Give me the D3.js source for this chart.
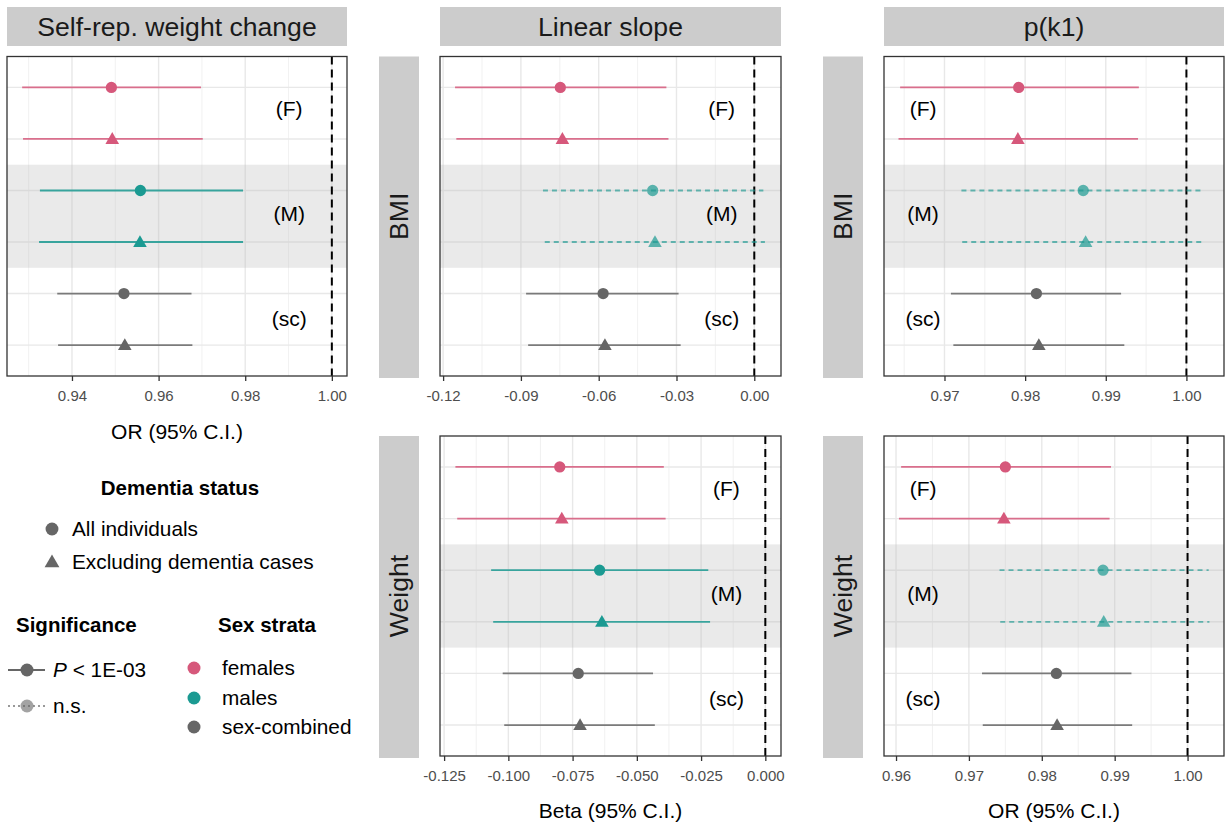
<!DOCTYPE html>
<html lang="en">
<head>
<meta charset="UTF-8">
<title>Weight change forest plot</title>
<script src="https://d3js.org/d3.v7.min.js"></script>
<style>
  body { margin: 0; background: #fff; font-family: "Liberation Sans", Arial, sans-serif; }
  .tick text { font-family: "Liberation Sans", Arial, sans-serif; }
</style>
</head>
<body>
<div id="chart"></div>
<script>
// rows, top to bottom
const rowKeys = ["F-all", "F-excl", "M-all", "M-excl", "sc-all", "sc-excl"];
const rowStratum = [0, 0, 1, 1, 2, 2];
const rowShape = ["all", "excl", "all", "excl", "all", "excl"];

const strataNames = ["females", "males", "sex-combined"];
const strataTags = ["(F)", "(M)", "(sc)"];
const strataColors = ["#d6587b", "#1b9a92", "#666666"];
const dementiaNames = ["All individuals", "Excluding dementia cases"];

// Self-rep. weight change (OR)
const swcEst  = [0.9491, 0.9493, 0.9558, 0.9557, 0.9520, 0.9522];
const swcLow  = [0.9285, 0.9287, 0.9326, 0.9324, 0.9366, 0.9368];
const swcHigh = [0.9698, 0.9702, 0.9795, 0.9795, 0.9676, 0.9678];
const swcSig  = [true, true, true, true, true, true];

// Linear slope, BMI (Beta)
const slopeBmiEst  = [-0.0748, -0.0740, -0.0392, -0.0383, -0.0583, -0.0576];
const slopeBmiLow  = [-0.1154, -0.1149, -0.0815, -0.0808, -0.0880, -0.0872];
const slopeBmiHigh = [-0.0339, -0.0331, 0.0035, 0.0041, -0.0292, -0.0284];
const slopeBmiSig  = [true, true, false, false, true, true];

// p(k1), BMI (OR)
const pkBmiEst  = [0.9792, 0.9791, 0.9872, 0.9875, 0.9814, 0.9817];
const pkBmiLow  = [0.9645, 0.9643, 0.9721, 0.9722, 0.9708, 0.9711];
const pkBmiHigh = [0.9941, 0.9940, 1.0020, 1.0021, 0.9919, 0.9923];
const pkBmiSig  = [true, true, false, false, true, true];

// Linear slope, Weight (Beta)
const slopeWtEst  = [-0.0800, -0.0792, -0.0645, -0.0636, -0.0728, -0.0721];
const slopeWtLow  = [-0.1206, -0.1199, -0.1067, -0.1059, -0.1022, -0.1016];
const slopeWtHigh = [-0.0395, -0.0388, -0.0222, -0.0215, -0.0437, -0.0430];
const slopeWtSig  = [true, true, true, true, true, true];

// p(k1), Weight (OR)
const pkWtEst  = [0.9750, 0.9748, 0.9884, 0.9885, 0.9820, 0.9821];
const pkWtLow  = [0.9607, 0.9604, 0.9742, 0.9743, 0.9718, 0.9719];
const pkWtHigh = [0.9895, 0.9893, 1.0029, 1.0030, 0.9923, 0.9924];
const pkWtSig  = [true, true, false, false, true, true];

// axis ticks
const swcTicks = [0.94, 0.96, 0.98, 1.00];
const slopeBmiTicks = [-0.12, -0.09, -0.06, -0.03, 0.00];
const pkBmiTicks = [0.97, 0.98, 0.99, 1.00];
const slopeWtTicks = [-0.125, -0.100, -0.075, -0.050, -0.025, 0.000];
const pkWtTicks = [0.96, 0.97, 0.98, 0.99, 1.00];

const width = 1225, height = 824;
const svg = d3.select("#chart").append("svg")
  .attr("width", width).attr("height", height);

const panels = [
  { est: swcEst, low: swcLow, high: swcHigh, sig: swcSig, ticks: swcTicks, digits: 2,
    domain: [0.9250, 1.0035], ref: 1, box: [7, 56.5, 347, 376], labelFrac: 0.83,
    top: "Self-rep. weight change", xTitle: "OR (95% C.I.)", xTitleY: 431 },
  { est: slopeBmiEst, low: slopeBmiLow, high: slopeBmiHigh, sig: slopeBmiSig, ticks: slopeBmiTicks, digits: 2,
    domain: [-0.1212, 0.0103], ref: 0, box: [440, 56.5, 781, 376], labelFrac: 0.826,
    top: "Linear slope", side: "BMI" },
  { est: pkBmiEst, low: pkBmiLow, high: pkBmiHigh, sig: pkBmiSig, ticks: pkBmiTicks, digits: 2,
    domain: [0.9625, 1.00466], ref: 1, box: [884, 56.5, 1224, 376], labelFrac: 0.115,
    top: "p(k1)", side: "BMI" },
  { est: slopeWtEst, low: slopeWtLow, high: slopeWtHigh, sig: slopeWtSig, ticks: slopeWtTicks, digits: 3,
    domain: [-0.1266, 0.0061], ref: 0, box: [440, 436, 781, 756], labelFrac: 0.84,
    side: "Weight", xTitle: "Beta (95% C.I.)", xTitleY: 810 },
  { est: pkWtEst, low: pkWtLow, high: pkWtHigh, sig: pkWtSig, ticks: pkWtTicks, digits: 2,
    domain: [0.95835, 1.005], ref: 1, box: [884, 436, 1224, 756], labelFrac: 0.115,
    side: "Weight", xTitle: "OR (95% C.I.)", xTitleY: 810 }
];

// small vertical nudges for the stratum tags
const tagShift = [-3, -1, 1];

const shapePath = {
  all: d3.symbol().type(d3.symbolCircle).size(100)(),
  excl: d3.symbol().type(d3.symbolTriangle).size(80)()
};

panels.forEach(drawPanel);

function drawPanel(p) {
  const [x0, y0, x1, y1] = p.box;
  const g = svg.append("g");
  const x = d3.scaleLinear().domain(p.domain).range([x0, x1]);
  const y = d3.scalePoint().domain(rowKeys).range([y0, y1]).padding(0.6);
  const step = y.step();

  // minor grid at midpoints of the major ticks
  const tstep = p.ticks[1] - p.ticks[0];
  const minor = [];
  for (let i = -1; i < p.ticks.length; i++) {
    const v = p.ticks[0] + (i + 0.5) * tstep;
    if (v > p.domain[0] && v < p.domain[1]) minor.push(v);
  }

  const data = rowKeys.map((k, i) => ({
    key: k, est: p.est[i], low: p.low[i], high: p.high[i], sig: p.sig[i],
    stratum: rowStratum[i], shape: rowShape[i]
  }));

  g.append("rect").attr("x", x0).attr("y", y0).attr("width", x1 - x0).attr("height", y1 - y0)
    .attr("fill", "#fff");

  g.selectAll(".minor").data(minor).join("line")
    .attr("x1", d => x(d)).attr("x2", d => x(d)).attr("y1", y0).attr("y2", y1)
    .attr("stroke", "#ededed").attr("stroke-width", 0.8);

  g.selectAll(".major").data(p.ticks).join("line")
    .attr("x1", d => x(d)).attr("x2", d => x(d)).attr("y1", y0).attr("y2", y1)
    .attr("stroke", "#e8e8e8").attr("stroke-width", 1.4);

  g.selectAll(".hgrid").data(rowKeys).join("line")
    .attr("x1", x0).attr("x2", x1).attr("y1", d => y(d)).attr("y2", d => y(d))
    .attr("stroke", "#e8e8e8").attr("stroke-width", 1.4);

  // shaded band behind the males rows
  g.append("rect")
    .attr("x", x0).attr("width", x1 - x0)
    .attr("y", y("M-all") - step / 2)
    .attr("height", y("M-excl") - y("M-all") + step)
    .attr("fill", "#b8b8b8").attr("opacity", 0.3);

  // reference line
  g.append("line")
    .attr("x1", x(p.ref)).attr("x2", x(p.ref)).attr("y1", y0).attr("y2", y1)
    .attr("stroke", "#000").attr("stroke-width", 2).attr("stroke-dasharray", "8,5");

  // confidence intervals
  g.selectAll(".ci").data(data).join("line")
    .attr("x1", d => x(d.low)).attr("x2", d => x(d.high))
    .attr("y1", d => y(d.key)).attr("y2", d => y(d.key))
    .attr("stroke", d => strataColors[d.stratum])
    .attr("stroke-opacity", d => d.sig ? 0.85 : 0.65)
    .attr("stroke-width", 1.8)
    .attr("stroke-dasharray", d => d.sig ? null : "5,4");

  // estimates
  g.selectAll(".pt").data(data).join("path")
    .attr("d", d => shapePath[d.shape])
    .attr("transform", d => `translate(${x(d.est)},${y(d.key) + (d.shape === "excl" ? 1 : 0)})`)
    .attr("fill", d => strataColors[d.stratum])
    .attr("fill-opacity", d => d.sig ? 1 : 0.7);

  // stratum tags
  strataTags.forEach((t, i) => {
    const a = y(rowKeys[i * 2]), b = y(rowKeys[i * 2 + 1]);
    g.append("text")
      .attr("x", x0 + p.labelFrac * (x1 - x0))
      .attr("y", (a + b) / 2 + 6 + tagShift[i])
      .attr("text-anchor", "middle")
      .attr("font-size", 21).attr("fill", "#000")
      .text(t);
  });

  // border
  g.append("rect").attr("x", x0).attr("y", y0).attr("width", x1 - x0).attr("height", y1 - y0)
    .attr("fill", "none").attr("stroke", "#333").attr("stroke-width", 1.3);

  // x axis
  const ax = g.append("g").attr("transform", `translate(0,${y1})`)
    .call(d3.axisBottom(x).tickValues(p.ticks).tickSize(5).tickPadding(9)
      .tickFormat(d => d.toFixed(p.digits)));
  ax.select(".domain").remove();
  ax.selectAll(".tick line").attr("stroke", "#333").attr("stroke-width", 1.3);
  ax.selectAll(".tick text").attr("font-size", 15).attr("fill", "#4d4d4d");

  if (p.xTitle) {
    svg.append("text").attr("x", (x0 + x1) / 2).attr("y", p.xTitleY + 7.5)
      .attr("text-anchor", "middle").attr("font-size", 21).attr("fill", "#000")
      .text(p.xTitle);
  }

  if (p.top) {
    svg.append("rect").attr("x", x0).attr("y", 7).attr("width", x1 - x0).attr("height", 39)
      .attr("fill", "#cccccc");
    svg.append("text").attr("x", (x0 + x1) / 2).attr("y", 26.5 + 9)
      .attr("text-anchor", "middle").attr("font-size", 26.6).attr("fill", "#1a1a1a")
      .text(p.top);
  }

  if (p.side) {
    const sx0 = x0 - 61, sx1 = x0 - 21;
    svg.append("rect").attr("x", sx0).attr("y", y0).attr("width", sx1 - sx0).attr("height", y1 - y0 + 2)
      .attr("fill", "#cccccc");
    const cx = (sx0 + sx1) / 2, cy = (y0 + y1) / 2;
    svg.append("text")
      .attr("transform", `translate(${cx + 9},${cy}) rotate(-90)`)
      .attr("text-anchor", "middle").attr("font-size", 26.6).attr("fill", "#1a1a1a")
      .text(p.side);
  }
}

// ---- legends ----
const leg = svg.append("g");

leg.append("text").attr("x", 180).attr("y", 488 + 7)
  .attr("text-anchor", "middle").attr("font-size", 20.5).attr("font-weight", "bold")
  .text("Dementia status");

const demY = [529, 562];
dementiaNames.forEach((name, i) => {
  leg.append("path")
    .attr("d", i === 0 ? d3.symbol().type(d3.symbolCircle).size(130)() : d3.symbol().type(d3.symbolTriangle).size(95)())
    .attr("transform", `translate(52,${demY[i] + (i === 1 ? 1 : 0)})`)
    .attr("fill", "#666666");
  leg.append("text").attr("x", 72).attr("y", demY[i] + 7)
    .attr("font-size", 20.8).text(name);
});

leg.append("text").attr("x", 16).attr("y", 625 + 7)
  .attr("font-size", 20.5).attr("font-weight", "bold").text("Significance");

// significant
leg.append("line").attr("x1", 8).attr("x2", 45).attr("y1", 670).attr("y2", 670)
  .attr("stroke", "#666").attr("stroke-width", 2.2);
leg.append("circle").attr("cx", 27).attr("cy", 670).attr("r", 6.5).attr("fill", "#666");
const pTxt = leg.append("text").attr("x", 53).attr("y", 670 + 7).attr("font-size", 20.8);
pTxt.append("tspan").attr("font-style", "italic").text("P");
pTxt.append("tspan").text(" < 1E-03");

// not significant
leg.append("line").attr("x1", 8).attr("x2", 45).attr("y1", 706).attr("y2", 706)
  .attr("stroke", "#999").attr("stroke-width", 2).attr("stroke-dasharray", "2,3");
leg.append("circle").attr("cx", 27).attr("cy", 706).attr("r", 6.5)
  .attr("fill", "#666").attr("fill-opacity", 0.6);
leg.append("text").attr("x", 53).attr("y", 706 + 7).attr("font-size", 20.8).text("n.s.");

leg.append("text").attr("x", 218).attr("y", 625 + 7)
  .attr("font-size", 20.5).attr("font-weight", "bold").text("Sex strata");

const sexY = [668, 698, 727];
strataNames.forEach((name, i) => {
  leg.append("circle").attr("cx", 194).attr("cy", sexY[i]).attr("r", 6.5)
    .attr("fill", strataColors[i]);
  leg.append("text").attr("x", 222).attr("y", sexY[i] + 7)
    .attr("font-size", 20.8).text(name);
});
</script>
</body>
</html>
